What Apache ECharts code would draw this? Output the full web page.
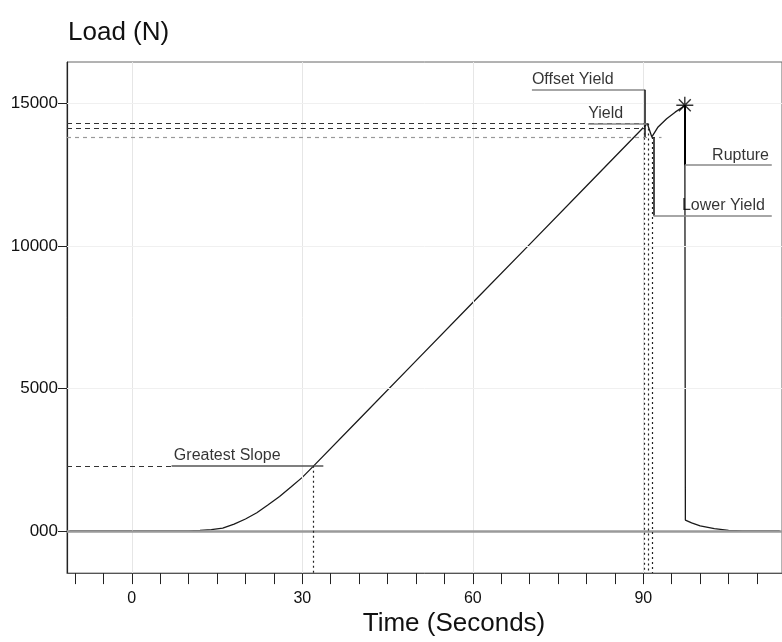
<!DOCTYPE html>
<html>
<head>
<meta charset="utf-8">
<script src="https://cdn.jsdelivr.net/npm/echarts@6/dist/echarts.min.js"></script>
<style>
  html, body { margin: 0; padding: 0; background: #fff; }
  #chart { width: 782px; height: 642px; }
</style>
</head>
<body>
<div id="chart"></div>
<script>
// ---- Data ----
const timeSec = [-11, -5, 0, 5, 10, 12, 14, 16, 18, 20, 22, 24, 26, 28, 30, 32,
  40, 50, 60, 70, 80, 90.7, 91.5, 92.6, 94.1, 95.6, 96.8, 97.3,
  97.4, 98.5, 100, 102.5, 105, 107.5, 114];
const loadN = [0, 0, 0, 0, 0, 20, 45, 100, 240, 420, 640, 920, 1210, 1540, 1880, 2285,
  3920, 5970, 8020, 10060, 12110, 14300, 13830, 14180, 14470, 14700, 14860, 14940,
  380, 280, 175, 80, 20, 0, 0];

const xTickValues = [-10, -5, 0, 5, 10, 15, 20, 25, 30, 35, 40, 45, 50, 55, 60, 65, 70, 75, 80, 85, 90, 95, 100, 105, 110];
const xLabelValues = [0, 30, 60, 90];
const yLabelValues = [0, 5000, 10000, 15000];
const yLabelText = ['000', '5000', '10000', '15000'];

// Events (time s, load N)
const eventNames = ['Greatest Slope', 'Offset Yield', 'Yield', 'Lower Yield', 'Rupture'];
const eventTime = [32.0, 90.2, 90.9, 91.5, 97.3];
const eventLoad = [2285, 14150, 14300, 13830, 14940];
// Label anchors (time s, load N) where each label's underline sits
const labelTime = [7.0, 70.4, 80.3, 91.8, 97.3];
const labelLoad = [2285, 15490, 14300, 11060, 12840];
const labelEndTime = [33.7, 90.3, 90.7, 112.6, 112.6];
const textTime = [7.4, 70.4, 80.3, 96.8, 102.1];

const X_MIN = -11.4, X_MAX = 114.4, Y_MIN = -1480, Y_MAX = 16460;
const FONT = "'Liberation Sans', Arial, sans-serif";

function seg(x1, y1, x2, y2, style) {
  return [{ coord: [x1, y1], lineStyle: style }, { coord: [x2, y2] }];
}
const dashDark = { color: '#333', width: 1.2, type: [5, 4] };
const dashLight = { color: '#999', width: 1.2, type: [4, 4] };
const dotted = { color: '#222', width: 1.2, type: [2, 3] };
const solidDark = { color: '#111', width: 1.5, type: 'solid' };
const underline = { color: '#888', width: 1.6, type: 'solid' };

const refLines = [];
// Greatest slope
refLines.push(seg(X_MIN, eventLoad[0], labelTime[0], eventLoad[0], dashDark));
refLines.push(seg(labelTime[0], labelLoad[0], labelEndTime[0], labelLoad[0], { color: '#555', width: 1.6, type: 'solid' }));
refLines.push(seg(eventTime[0], eventLoad[0], eventTime[0], Y_MIN, dotted));
// Offset yield
refLines.push(seg(X_MIN, eventLoad[1], labelEndTime[1], eventLoad[1], dashDark));
refLines.push(seg(labelTime[1], labelLoad[1], labelEndTime[1], labelLoad[1], underline));
refLines.push(seg(labelEndTime[1], labelLoad[1], labelEndTime[1], eventLoad[3], solidDark));
refLines.push(seg(eventTime[1], eventLoad[1], eventTime[1], Y_MIN, dotted));
// Yield
refLines.push(seg(X_MIN, eventLoad[2], labelEndTime[2], eventLoad[2], dashDark));
refLines.push(seg(labelTime[2], labelLoad[2], labelEndTime[2], labelLoad[2], underline));
refLines.push(seg(eventTime[2], eventLoad[2], eventTime[2], Y_MIN, dotted));
// Lower yield
refLines.push(seg(X_MIN, eventLoad[3], 93.2, eventLoad[3], dashLight));
refLines.push(seg(labelTime[3], eventLoad[3], labelTime[3], labelLoad[3], solidDark));
refLines.push(seg(labelTime[3], labelLoad[3], labelEndTime[3], labelLoad[3], underline));
refLines.push(seg(eventTime[3], eventLoad[3], eventTime[3], Y_MIN, dotted));
// Rupture
refLines.push(seg(labelTime[4], eventLoad[4], labelTime[4], labelLoad[4], { color: '#000', width: 2, type: 'solid' }));
refLines.push(seg(labelTime[4], labelLoad[4], labelEndTime[4], labelLoad[4], underline));

// faint grid + zero line
const gridLines = [];
xLabelValues.forEach(v => gridLines.push(seg(v, Y_MIN, v, Y_MAX, { color: '#e6e6e6', width: 1, type: 'solid' })));
[5000, 10000, 15000].forEach(v => gridLines.push(seg(X_MIN, v, X_MAX, v, { color: '#f0f0f0', width: 1, type: 'solid' })));
gridLines.push(seg(X_MIN, 0, X_MAX, 0, { color: '#9a9a9a', width: 2.5, type: 'solid' }));

const chart = echarts.init(document.getElementById('chart'), null, { renderer: 'canvas' });
chart.setOption({
  animation: false,
  backgroundColor: '#fff',
  textStyle: { fontFamily: FONT },
  grid: { left: 67, right: 0, top: 62, bottom: 68, show: true, borderColor: '#666', borderWidth: 1 },
  xAxis: {
    type: 'value', min: X_MIN, max: X_MAX,
    name: 'Time (Seconds)', nameLocation: 'middle', nameGap: 35,
    nameTextStyle: { fontSize: 26, color: '#111', fontFamily: FONT, padding: [0, 0, 0, 59] },
    axisLine: { show: true, onZero: false, lineStyle: { color: '#555', width: 1 } },
    axisTick: { show: true, length: 11, customValues: xTickValues, lineStyle: { color: '#222', width: 1 } },
    axisLabel: { customValues: xLabelValues, fontSize: 16, color: '#111', margin: 17, fontFamily: FONT },
    splitLine: { show: false }
  },
  yAxis: {
    type: 'value', min: Y_MIN, max: Y_MAX,
    name: 'Load (N)', nameLocation: 'end', nameGap: 16,
    nameTextStyle: { fontSize: 26, color: '#111', align: 'left', fontFamily: FONT, padding: [0, 0, 0, 1] },
    axisLine: { show: true, onZero: false, lineStyle: { color: '#222', width: 1.2 } },
    axisTick: { show: true, length: 9, customValues: yLabelValues, lineStyle: { color: '#222' } },
    axisLabel: {
      customValues: yLabelValues, fontSize: 17, color: '#111', margin: 9, fontFamily: FONT,
      formatter: v => yLabelText[yLabelValues.indexOf(v)]
    },
    splitLine: { show: false }
  },
  series: [
    {
      type: 'line', z: 1, silent: true, data: [[X_MIN, 0]], showSymbol: false,
      lineStyle: { opacity: 0 },
      markLine: { silent: true, symbol: ['none', 'none'], label: { show: false }, data: gridLines, animation: false }
    },
    {
      type: 'line', z: 3, silent: true,
      data: timeSec.map((t, i) => [t, loadN[i]]),
      showSymbol: false, smooth: false,
      lineStyle: { color: '#1a1a1a', width: 1.3 }
    },
    {
      type: 'line', z: 4, silent: true, data: [[X_MIN, 0]], showSymbol: false,
      lineStyle: { opacity: 0 },
      markLine: { silent: true, symbol: ['none', 'none'], label: { show: false }, data: refLines, animation: false }
    },
    {
      type: 'scatter', z: 5, silent: true,
      data: [[eventTime[4], eventLoad[4]]],
      symbol: 'path://M0,-10L0,10M-10,0L10,0M-7,-7L7,7M-7,7L7,-7',
      symbolSize: 17,
      itemStyle: { color: 'none', borderColor: '#000', borderWidth: 1.4 }
    },
    {
      type: 'scatter', z: 6, silent: true,
      data: eventNames.map((n, i) => ({ value: [textTime[i], labelLoad[i]], name: n })),
      symbolSize: 0,
      label: {
        show: true, formatter: p => p.name, position: [0, -2],
        align: 'left', verticalAlign: 'bottom',
        fontSize: 16, color: '#000', fontFamily: FONT
      }
    }
  ]
});
</script>
</body>
</html>
